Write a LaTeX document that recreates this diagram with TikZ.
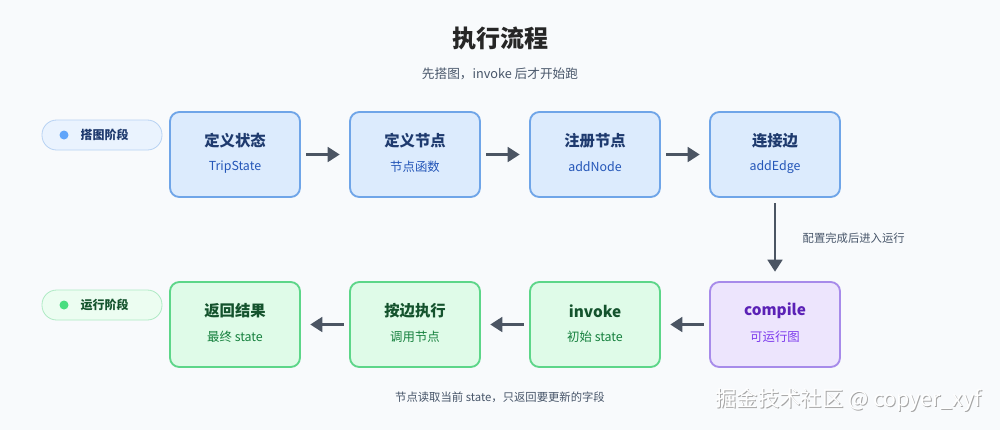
\documentclass[tikz,border=0pt]{standalone}
\usepackage{fontspec}
\setmainfont{Noto Sans CJK SC}
\usetikzlibrary{arrows.meta}
\definecolor{bg}{HTML}{F8FAFC}
\definecolor{bfill}{HTML}{DCEBFD}\definecolor{bdraw}{HTML}{6FA5E8}\definecolor{btit}{HTML}{1E3A6E}\definecolor{bsub}{HTML}{2456B8}
\definecolor{gfill}{HTML}{DFFBE8}\definecolor{gdraw}{HTML}{5DD689}\definecolor{gtit}{HTML}{14532D}\definecolor{gsub}{HTML}{15803D}
\definecolor{pfill}{HTML}{EDE5FD}\definecolor{pdraw}{HTML}{A78BEA}\definecolor{ptit}{HTML}{5B21B6}\definecolor{psub}{HTML}{7C3AED}
\definecolor{arr}{HTML}{4B5563}\definecolor{txt}{HTML}{475569}
\definecolor{bdot}{HTML}{60A5FA}\definecolor{gdot}{HTML}{4ADE80}
\tikzset{
 box/.style={rounded corners=7pt,line width=1.4pt,minimum width=97.5pt,minimum height=63.75pt,inner sep=0pt},
 blue/.style={box,fill=bfill,draw=bdraw},
 green/.style={box,fill=gfill,draw=gdraw},
 purple/.style={box,fill=pfill,draw=pdraw},
 tit/.style={font=\fontsize{11.5}{13}\selectfont\bfseries},
 sub/.style={font=\fontsize{9.3}{11}\selectfont},
 link/.style={draw=arr,line width=2pt,-{Triangle[length=9pt,width=11pt]},shorten <=4pt,shorten >=7pt},
 pill/.style={rounded corners=11pt,line width=0.6pt,minimum width=90pt,minimum height=22.5pt},
 wm/.style={font=\fontsize{16}{18}\selectfont,anchor=east}
}
\begin{document}
\begin{tikzpicture}[x=0.75pt,y=-0.75pt]
\useasboundingbox[fill=bg] (0,0) rectangle (1000,430);
\node[font=\fontsize{18}{20}\selectfont\bfseries,text=black!85] (t) at (500,38) {执行流程};
\node[font=\fontsize{9.5}{11}\selectfont,text=txt] (st) at (500,74) {先搭图，invoke 后才开始跑};
% pills
\node[pill,fill=bfill!60,draw=bdraw!50] (p1) at (102,135) {};
\fill[bdot] (64,135) circle (4.5);
\node[font=\fontsize{9}{11}\selectfont\bfseries,text=btit,anchor=west] (p1t) at (76,135) {搭图阶段};
\node[pill,fill=gfill!60,draw=gdraw!50] (p2) at (102,305) {};
\fill[gdot] (64,305) circle (4.5);
\node[font=\fontsize{9}{11}\selectfont\bfseries,text=gtit,anchor=west] (p2t) at (76,305) {运行阶段};
% top row
\foreach \n/\x/\a/\b in {a/235/定义状态/TripState,b/415/定义节点/节点函数,c/595/注册节点/addNode,d/775/连接边/addEdge}{
 \node[blue] (\n) at (\x,154.5) {};
 \node[tit,text=btit] at (\x,141) {\a};
 \node[sub,text=bsub] at (\x,167) {\b};
}
% bottom row
\foreach \n/\x/\a/\b in {h/235/返回结果/最终 state,g/415/按边执行/调用节点,f/595/invoke/初始 state}{
 \node[green] (\n) at (\x,324.5) {};
 \node[tit,text=gtit] at (\x,311) {\a};
 \node[sub,text=gsub] at (\x,337) {\b};
}
\node[purple] (e) at (775,324.5) {};
\node[tit,text=ptit] at (775,311) {compile};
\node[sub,text=psub] at (775,337) {可运行图};
\draw[link] (a) -- (b); \draw[link] (b) -- (c); \draw[link] (c) -- (d);
\draw[link] (d) -- (e);
\draw[link] (e) -- (f);
\draw[link] (f) -- (g);
\draw[link] (g) -- (h);
\node[font=\fontsize{8.5}{10}\selectfont,text=txt,anchor=west] (lab) at (798,238) {配置完成后进入运行};
\node[font=\fontsize{8.5}{10}\selectfont,text=txt] (note) at (500,397) {节点读取当前 state，只返回要更新的字段};
\node[wm,text=gray!70] (wms) at (987,401) {掘金技术社区 @ copyer\_xyf};
\node[wm,text=white] (wm) at (986,400) {掘金技术社区 @ copyer\_xyf};
\end{tikzpicture}
\end{document}
